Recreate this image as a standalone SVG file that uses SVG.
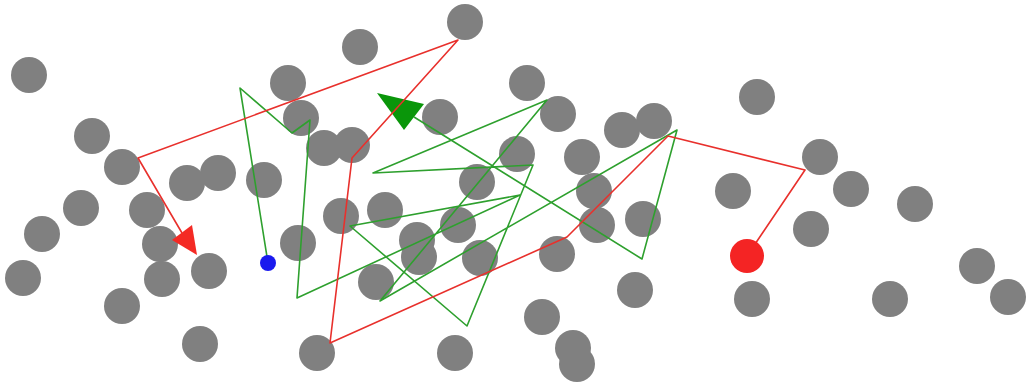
<svg xmlns="http://www.w3.org/2000/svg" width="1029" height="382" viewBox="0 0 1029 382">
<style>
.g{fill:#808080}
.red{fill:none;stroke:#e8302c;stroke-width:1.6;stroke-linejoin:round}
.grn{fill:none;stroke:#2ea02e;stroke-width:1.6;stroke-linejoin:round}
</style>
<rect width="1029" height="382" fill="#fff"/>
<g id="obstacles">
<circle class="g" cx="29" cy="75" r="18"/><circle class="g" cx="92" cy="136" r="18"/><circle class="g" cx="122" cy="167" r="18"/>
<circle class="g" cx="187" cy="183" r="18"/><circle class="g" cx="218" cy="173" r="18"/><circle class="g" cx="264" cy="180" r="18"/>
<circle class="g" cx="288" cy="83" r="18"/><circle class="g" cx="301" cy="118" r="18"/><circle class="g" cx="324" cy="148" r="18"/>
<circle class="g" cx="352" cy="145" r="18"/><circle class="g" cx="360" cy="47" r="18"/><circle class="g" cx="465" cy="22" r="18"/>
<circle class="g" cx="440" cy="117" r="18"/><circle class="g" cx="527" cy="83" r="18"/><circle class="g" cx="558" cy="114" r="18"/>
<circle class="g" cx="517" cy="154" r="18"/><circle class="g" cx="477" cy="182" r="18"/><circle class="g" cx="582" cy="157" r="18"/>
<circle class="g" cx="622" cy="130" r="18"/><circle class="g" cx="654" cy="121" r="18"/><circle class="g" cx="594" cy="191" r="18"/>
<circle class="g" cx="597" cy="225" r="18"/><circle class="g" cx="643" cy="219" r="18"/><circle class="g" cx="757" cy="97" r="18"/>
<circle class="g" cx="820" cy="157" r="18"/><circle class="g" cx="851" cy="189" r="18"/><circle class="g" cx="733" cy="191" r="18"/>
<circle class="g" cx="915" cy="204" r="18"/><circle class="g" cx="811" cy="229" r="18"/><circle class="g" cx="81" cy="208" r="18"/>
<circle class="g" cx="147" cy="210" r="18"/><circle class="g" cx="42" cy="234" r="18"/><circle class="g" cx="160" cy="244" r="18"/>
<circle class="g" cx="23" cy="278" r="18"/><circle class="g" cx="162" cy="279" r="18"/><circle class="g" cx="209" cy="271" r="18"/>
<circle class="g" cx="122" cy="306" r="18"/><circle class="g" cx="200" cy="344" r="18"/><circle class="g" cx="298" cy="243" r="18"/>
<circle class="g" cx="341" cy="216" r="18"/><circle class="g" cx="385" cy="210" r="18"/><circle class="g" cx="417" cy="240" r="18"/>
<circle class="g" cx="419" cy="257" r="18"/><circle class="g" cx="376" cy="282" r="18"/><circle class="g" cx="458" cy="225" r="18"/>
<circle class="g" cx="480" cy="258" r="18"/><circle class="g" cx="557" cy="254" r="18"/><circle class="g" cx="635" cy="290" r="18"/>
<circle class="g" cx="317" cy="353" r="18"/><circle class="g" cx="455" cy="353" r="18"/><circle class="g" cx="542" cy="317" r="18"/>
<circle class="g" cx="573" cy="348" r="18"/><circle class="g" cx="577" cy="364" r="18"/><circle class="g" cx="752" cy="299" r="18"/>
<circle class="g" cx="890" cy="299" r="18"/><circle class="g" cx="977" cy="266" r="18"/><circle class="g" cx="1008" cy="297" r="18"/>
</g>
<g id="connectors">
<polyline class="grn" points="268,263 240,88 292,133 310,120 297,298 520,195 350,226 467,326 533,165 373,173 547,100 380,301 677,130 642,259 414,117"/>
<polygon fill="#0a960a" points="377,93 404,130 424,104"/>
<polyline class="red" points="747,256 805,170 668,136 567,237 330,343 352,158 458,40 138,158 182,233"/>
<polygon fill="#f42a24" points="197,255 172,240 192,225"/>
</g>
<g id="start">
<circle cx="268" cy="263" r="8" fill="#1a1aee"/>
</g>
<g id="goal">
<circle cx="747" cy="256" r="17" fill="#f42424"/>
</g>
</svg>
